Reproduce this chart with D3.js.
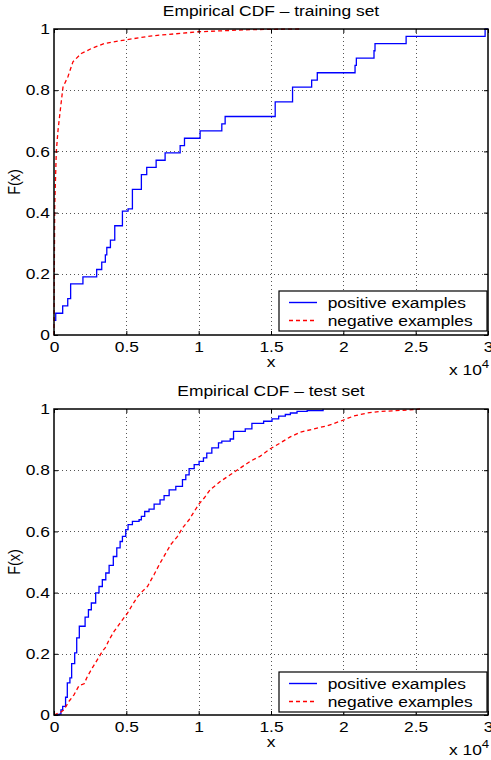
<!DOCTYPE html>
<html>
<head>
<meta charset="utf-8">
<script src="https://cdn.jsdelivr.net/npm/d3@7"></script>
<style>
  body { margin: 0; background: #fff; }
  svg { display: block; font-family: "Liberation Sans", Arial, Helvetica, sans-serif; }
</style>
</head>
<body>
<div id="cdf"></div>
<script>
// tick values (x in raw units, labels shown in 10^4)
var xTicks = [0, 5000, 10000, 15000, 20000, 25000, 30000];
var yTicks = [0, 0.2, 0.4, 0.6, 0.8, 1];
var seriesNames = ["positive examples", "negative examples"];
var panelTitles = ["Empirical CDF \u2013 training set", "Empirical CDF \u2013 test set"];

// training set, [x, F(x)]
var trainPositive = [
  [0, 0.048], [120, 0.071], [600, 0.095], [950, 0.119], [1150, 0.167], [2000, 0.19],
  [2950, 0.214], [3300, 0.238], [3550, 0.262], [3650, 0.286], [3900, 0.31], [4200, 0.357],
  [4730, 0.405], [5120, 0.412], [5420, 0.476], [6040, 0.524], [6410, 0.548], [7060, 0.571],
  [7680, 0.595], [8720, 0.619], [9020, 0.643], [10100, 0.667], [11600, 0.69], [11830, 0.714],
  [15290, 0.762], [16490, 0.81], [17810, 0.833], [18200, 0.857], [20810, 0.881], [20900, 0.905],
  [22120, 0.929], [22190, 0.952], [24340, 0.976], [29800, 1.0], [30000, 1.0]
];
var trainNegative = [
  [0, 0], [20, 0.2], [50, 0.42], [160, 0.6], [280, 0.67], [460, 0.745], [620, 0.81],
  [970, 0.845], [1310, 0.893], [1890, 0.92], [2580, 0.936], [3510, 0.953], [4900, 0.964],
  [6640, 0.977], [10000, 0.991], [13560, 0.998], [17000, 1.0]
];

// test set
var testPositive = [
  [0, 0], [350, 0.003], [480, 0.017], [600, 0.028], [800, 0.058], [920, 0.105], [1100, 0.121],
  [1220, 0.168], [1430, 0.203], [1570, 0.252], [1750, 0.29], [2150, 0.32], [2380, 0.344],
  [2580, 0.366], [2880, 0.399], [3110, 0.42], [3340, 0.442], [3580, 0.464], [3810, 0.489],
  [4100, 0.518], [4340, 0.546], [4570, 0.567], [4730, 0.584], [4960, 0.606], [5120, 0.622],
  [5420, 0.633], [5880, 0.638], [6040, 0.649], [6270, 0.665], [6570, 0.673], [6920, 0.689],
  [7330, 0.703], [7610, 0.717], [7960, 0.736], [8420, 0.747], [8880, 0.769], [9110, 0.785],
  [9340, 0.805], [9690, 0.818], [10030, 0.829], [10330, 0.84], [10560, 0.856], [10910, 0.873],
  [11370, 0.889], [11600, 0.895], [12180, 0.902], [12410, 0.927], [13220, 0.935], [13680, 0.953],
  [14490, 0.96], [15070, 0.968], [15530, 0.977], [15990, 0.982], [16340, 0.987], [16800, 0.992],
  [17500, 0.995], [18600, 1.0]
];
var testNegative = [
  [0, 0], [460, 0.009], [690, 0.017], [1040, 0.045], [1380, 0.066], [1730, 0.096], [2080, 0.102],
  [2310, 0.126], [2650, 0.154], [3000, 0.181], [3340, 0.208], [3580, 0.222], [3810, 0.246],
  [4150, 0.273], [4730, 0.311], [5080, 0.333], [5420, 0.36], [5770, 0.386], [6110, 0.404],
  [6460, 0.42], [6920, 0.459], [7270, 0.491], [7730, 0.529], [8070, 0.557], [8540, 0.584],
  [8880, 0.611], [9340, 0.638], [9690, 0.665], [10030, 0.69], [10380, 0.709], [10790, 0.736],
  [11490, 0.763], [12180, 0.785], [12870, 0.807], [13560, 0.829], [14260, 0.846], [14950, 0.87],
  [15640, 0.889], [16330, 0.909], [17030, 0.924], [17950, 0.935], [18870, 0.945], [19790, 0.96],
  [20720, 0.977], [21640, 0.987], [22560, 0.992], [23490, 0.994], [24500, 0.997], [25300, 1.0]
];

var fontSize = 14.5,
    stretch = 1.2;   // the original figure is a bit wider than tall

var left = 54, right = 488;

var svg = d3.select("#cdf").append("svg")
  .attr("width", 491)
  .attr("height", 760);

var x = d3.scaleLinear().domain([0, 30000]).range([left, right]);

// text helper, keeps the wide look of the original lettering
function label(parent, px, py, str, anchor) {
  return parent.append("text")
    .attr("transform", "translate(" + px + "," + py + ") scale(" + stretch + ",1)")
    .attr("text-anchor", anchor || "start")
    .attr("font-size", fontSize)
    .attr("fill", "#000")
    .text(str);
}

function drawPanel(top, bottom, title, pos, neg, legendTop) {
  var y = d3.scaleLinear().domain([0, 1]).range([bottom, top]);
  var g = svg.append("g");

  // dotted grid
  g.append("g").selectAll("line.vgrid")
    .data(xTicks.slice(1, -1))
    .enter().append("line")
      .attr("class", "vgrid")
      .attr("x1", function (d) { return Math.round(x(d)) + 0.5; })
      .attr("x2", function (d) { return Math.round(x(d)) + 0.5; })
      .attr("y1", top)
      .attr("y2", bottom);
  g.append("g").selectAll("line.hgrid")
    .data(yTicks.slice(1, -1))
    .enter().append("line")
      .attr("class", "hgrid")
      .attr("x1", left)
      .attr("x2", right)
      .attr("y1", function (d) { return Math.round(y(d)) + 0.5; })
      .attr("y2", function (d) { return Math.round(y(d)) + 0.5; });
  g.selectAll("line.vgrid, line.hgrid")
    .attr("stroke", "#555")
    .attr("stroke-width", 1)
    .attr("stroke-dasharray", "1,3");

  // curves
  var stepLine = d3.line()
    .x(function (d) { return x(d[0]); })
    .y(function (d) { return y(d[1]); })
    .curve(d3.curveStepAfter);
  var smoothLine = d3.line()
    .x(function (d) { return x(d[0]); })
    .y(function (d) { return y(d[1]); });

  g.append("path")
    .datum(pos)
    .attr("d", stepLine)
    .attr("fill", "none")
    .attr("stroke", "#0000ff")
    .attr("stroke-width", 1.3);

  g.append("path")
    .datum(neg)
    .attr("d", smoothLine)
    .attr("fill", "none")
    .attr("stroke", "#ff0000")
    .attr("stroke-width", 1.3)
    .attr("stroke-dasharray", "4,3");

  // axes, ticks point inward on all four sides
  var xAxis = g.append("g")
    .attr("transform", "translate(0," + bottom + ")")
    .call(d3.axisBottom(x).tickValues(xTicks).tickSize(-4).tickSizeOuter(0).tickPadding(7)
      .tickFormat(function (d) { return String(d / 1e4); }));
  g.append("g")
    .attr("transform", "translate(0," + top + ")")
    .call(d3.axisTop(x).tickValues(xTicks).tickSize(-4).tickSizeOuter(0).tickFormat(""));
  var yAxis = g.append("g")
    .attr("transform", "translate(" + left + ",0)")
    .call(d3.axisLeft(y).tickValues(yTicks).tickSize(-4).tickSizeOuter(0).tickPadding(3.5)
      .tickFormat(function (d) { return String(d); }));
  g.append("g")
    .attr("transform", "translate(" + right + ",0)")
    .call(d3.axisRight(y).tickValues(yTicks).tickSize(-4).tickSizeOuter(0).tickFormat(""));

  g.selectAll(".domain").remove();
  g.selectAll(".tick line").attr("stroke", "#000").attr("stroke-width", 1);
  [xAxis, yAxis].forEach(function (a) {
    a.attr("font-family", null).attr("font-size", fontSize);
    a.selectAll("text").attr("transform", "scale(" + stretch + ",1)").attr("fill", "#000");
  });

  // box
  g.append("rect")
    .attr("x", left)
    .attr("y", top)
    .attr("width", right - left)
    .attr("height", bottom - top)
    .attr("fill", "none")
    .attr("stroke", "#000")
    .attr("stroke-width", 1.5);

  // title and labels
  label(g, (left + right) / 2, top - 13, title, "middle");
  label(g, 271, bottom + 32, "x", "middle");
  var mult = label(g, 449, bottom + 40, "x 10");
  mult.append("tspan").attr("dy", -7).attr("font-size", 11).text("4");

  g.append("text")
    .attr("transform", "translate(20," + ((top + bottom) / 2) + ") rotate(-90) scale(1," + stretch + ")")
    .attr("text-anchor", "middle")
    .attr("font-size", fontSize)
    .text("F(x)");

  // legend
  var lg = g.append("g").attr("transform", "translate(279," + legendTop + ")");
  lg.append("rect")
    .attr("width", 208)
    .attr("height", 40)
    .attr("fill", "#fff")
    .attr("stroke", "#000")
    .attr("stroke-width", 1.2);
  [{name: seriesNames[0], color: "#0000ff", dash: null},
   {name: seriesNames[1], color: "#ff0000", dash: "4,3"}].forEach(function (s, i) {
    var ry = 11.5 + i * 18;
    lg.append("line")
      .attr("x1", 10).attr("x2", 38)
      .attr("y1", ry).attr("y2", ry)
      .attr("stroke", s.color)
      .attr("stroke-width", 1.4)
      .attr("stroke-dasharray", s.dash);
    label(lg, 48.7, ry + 5, s.name);
  });
}

drawPanel(29, 335, panelTitles[0], trainPositive, trainNegative, 291);
drawPanel(409, 715, panelTitles[1], testPositive, testNegative, 672);
</script>
</body>
</html>
